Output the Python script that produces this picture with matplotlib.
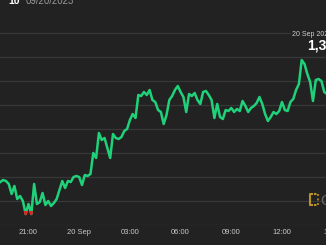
import matplotlib
matplotlib.use("Agg")
import matplotlib.pyplot as plt
import matplotlib.dates as mdates
from matplotlib.patches import Rectangle
from matplotlib.lines import Line2D
import numpy as np
import pandas as pd

# ---- data ----
start_time = "2023-09-19 19:20"
step = "10min"
prices = [
    1300.75, 1301.25, 1301.0, 1300.25, 1297.75, 1299.75, 1296.5, 1297.25, 1296.0, 1292.75,
    1295.25, 1292.75, 1300.25, 1295.25, 1295.75, 1298.0, 1295.0, 1296.0, 1294.75, 1295.5,
    1296.5, 1298.75, 1301.0, 1299.25, 1301.0, 1300.75, 1302.0, 1302.25, 1302.0, 1300.0,
    1302.5, 1302.25, 1302.75, 1308.0, 1306.75, 1313.0, 1311.25, 1311.75, 1309.25, 1306.75,
    1312.75, 1311.75, 1311.5, 1312.0, 1313.5, 1314.0, 1316.25, 1317.75, 1316.75, 1322.5,
    1322.25, 1323.25, 1322.5, 1323.75, 1321.25, 1320.75, 1318.75, 1318.25, 1315.25, 1317.5,
    1321.25, 1322.25, 1323.75, 1324.75, 1323.25, 1322.0, 1318.25, 1322.75, 1322.25, 1323.0,
    1321.25, 1320.25, 1323.25, 1323.5, 1322.5, 1321.25, 1316.75, 1320.25, 1317.0, 1316.5,
    1318.75, 1318.5, 1319.25, 1318.25, 1319.0, 1318.5, 1321.0, 1319.75, 1318.25, 1319.25,
    1319.75, 1320.5, 1322.0, 1320.25, 1317.75, 1316.0, 1317.0, 1318.25, 1317.75, 1318.5,
    1320.75, 1318.75, 1318.5, 1320.75, 1321.5, 1323.75, 1325.25, 1331.25, 1330.25, 1327.75,
    1325.75, 1321.0, 1326.25, 1326.5, 1326.0, 1323.25, 1322.75,
]
open_price = 1293.5
tick_hours = [21, 24, 27, 30, 33, 36, 39]
tick_labels = ["21:00", "20 Sep", "03:00", "06:00", "09:00", "12:00", "15:00"]
title_name = "10"
title_date = "09/20/2023"
hover_date = "20 Sep 2023"
hover_price = "1,331.25"

times = pd.date_range(start_time, periods=len(prices), freq=step)
day0 = pd.Timestamp("2023-09-19")

BG = "#222222"
GREEN = "#1fd27a"
RED = "#e8231f"
GRID = "#383838"
GOLD = "#b8912a"

fig = plt.figure(figsize=(3.26, 2.45), dpi=100, facecolor=BG)
ax = fig.add_axes([0, 20 / 245, 1, 225 / 245])
ax.set_facecolor(BG)

xmin = day0 + pd.Timedelta(hours=19.314)
xmax = day0 + pd.Timedelta(hours=38.604)
ymin, ymax = 1290, 1346.25
ax.set_xlim(xmin, xmax)
ax.set_ylim(ymin, ymax)

ax.set_yticks(np.arange(1290, 1340, 6))
ax.yaxis.grid(True, color=GRID, lw=0.9)
ax.set_axisbelow(True)
ax.tick_params(axis="y", length=0, labelleft=False)

for s in ax.spines.values():
    s.set_visible(False)

ax.plot(times, prices, color=GREEN, lw=1.8)
red_line, = ax.plot(times, prices, color=RED, lw=1.8)
clip = Rectangle((mdates.date2num(xmin), ymin - 5),
                 mdates.date2num(xmax) - mdates.date2num(xmin),
                 open_price - ymin + 5, transform=ax.transData)
red_line.set_clip_path(clip)

# x ticks
tick_pos = [day0 + pd.Timedelta(hours=h) for h in tick_hours]
for tp, lab in zip(tick_pos, tick_labels):
    ax.text(tp, -0.035, lab, transform=ax.get_xaxis_transform(), ha="center",
            va="center", fontsize=5.5, color="#c8c8c8", family="Liberation Sans",
            clip_on=False)
ax.set_xticks([])

# title (cut at top)
fig.text(19.5 / 326, 1 - 4.5 / 245, title_name, ha="right", va="baseline",
         fontsize=7.5, fontweight="bold", color="white", family="Liberation Sans")
fig.text(26 / 326, 1 - 4.5 / 245, title_date, ha="left", va="baseline",
         fontsize=6.9, color="#9a9a9a", family="Liberation Sans")

# hover label at top right
fig.text(292 / 326, 1 - 36 / 245, hover_date, ha="left", va="baseline",
         fontsize=5, color="#cfcfcf", family="Liberation Sans",
         bbox=dict(facecolor=BG, edgecolor="none", pad=0.6))
fig.text(307 / 326, 1 - 50 / 245, hover_price, ha="left", va="baseline",
         fontsize=10, fontweight="bold", color="white", family="Liberation Sans")

# watermark logo: bracket with dots
def fx(px):
    return px / 326
def fy(py):
    return 1 - py / 245
fig.add_artist(Line2D([fx(312), fx(310), fx(310), fx(312)],
                      [fy(193.5), fy(193.5), fy(204.5), fy(204.5)],
                      transform=fig.transFigure, color=GOLD, lw=1.5))
fig.add_artist(Line2D([fx(314), fx(318)], [fy(193.5), fy(193.5)],
                      transform=fig.transFigure, color=GOLD, lw=1.5,
                      linestyle=(0, (1.2, 1.2))))
fig.add_artist(Line2D([fx(314), fx(318)], [fy(204.5), fy(204.5)],
                      transform=fig.transFigure, color=GOLD, lw=1.5,
                      linestyle=(0, (1.2, 1.2))))
fig.add_artist(Line2D([fx(318), fx(318)], [fy(193.5), fy(204.5)],
                      transform=fig.transFigure, color=GOLD, lw=1.2,
                      linestyle=(0, (1.2, 1.5))))
fig.text(320 / 326, 1 - 204.5 / 245, "CoinDesk", ha="left", va="baseline",
         fontsize=10.5, color="#6a6a6a", family="Liberation Sans")

fig.savefig("out.png", dpi=100, facecolor=BG)
